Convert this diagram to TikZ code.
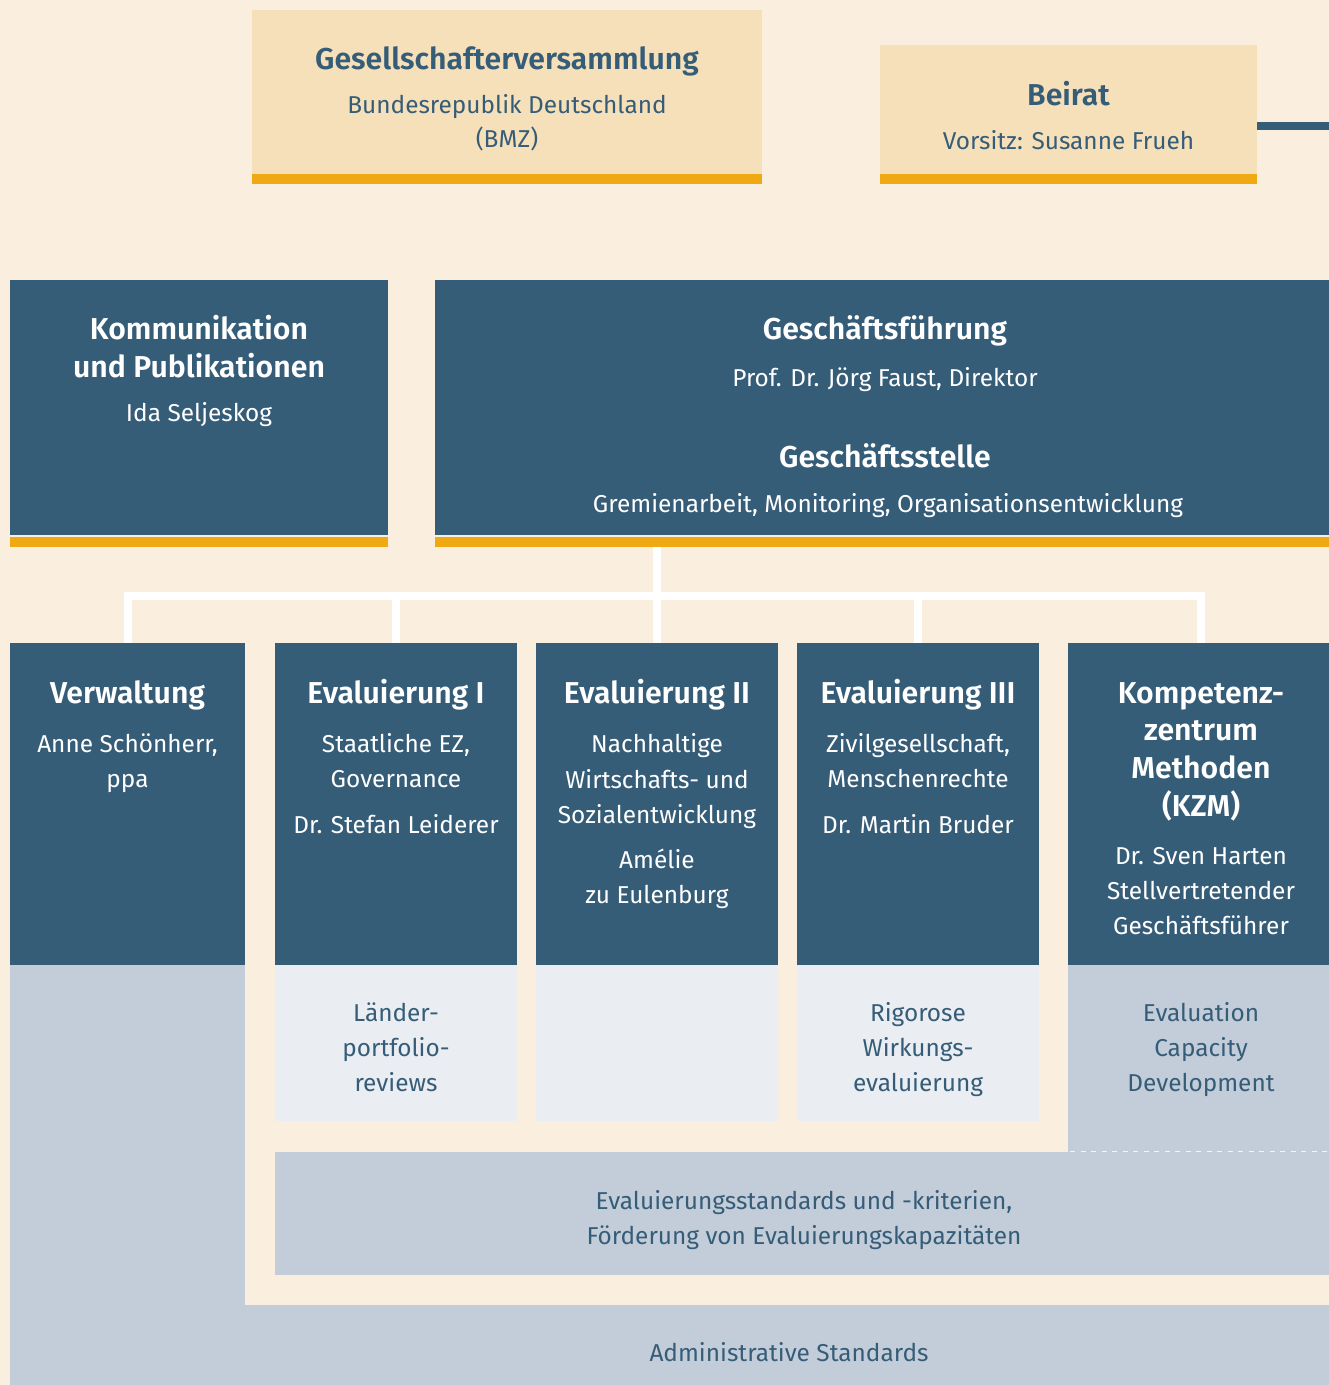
\documentclass[tikz,border=0pt]{standalone}
\usepackage{fontspec}
\setmainfont{Fira Sans}[BoldFont={Fira Sans SemiBold}]
\definecolor{cream}{HTML}{FAEFDE}
\definecolor{sand}{HTML}{F6E0BA}
\definecolor{gold}{HTML}{EEA913}
\definecolor{navy}{HTML}{365D78}
\definecolor{pale}{HTML}{EAEDF2}
\definecolor{bgray}{HTML}{C3CDD9}
\tikzset{
  boxr/.style={anchor=north west, inner sep=0, outer sep=0, draw=none},
  ttl/.style={anchor=base, inner sep=0, font=\bfseries\fontsize{30.2}{36}\selectfont},
  txt/.style={anchor=base, inner sep=0, font=\fontsize{24.4}{30}\selectfont},
  ondark/.style={text=white},
  onlight/.style={text=navy},
  conn/.style={draw=white, line width=8pt},
}
\begin{document}
\begin{tikzpicture}[x=1pt,y=-1pt]
\useasboundingbox (0,0) rectangle (1329,1385);
\fill[cream] (0,0) rectangle (1329,1385);

% top boxes
\node[boxr, fill=sand, minimum width=510, minimum height=164] (gv) at (252,10) {};
\node[boxr, fill=gold, minimum width=510, minimum height=10] (gvbar) at (252,174) {};
\node[boxr, fill=sand, minimum width=377, minimum height=129] (beirat) at (880,45) {};
\node[boxr, fill=gold, minimum width=377, minimum height=10] (beiratbar) at (880,174) {};
\coordinate (redge) at (1329,125.5);
\draw[navy, line width=8pt] (beirat.east |- redge) -- (redge);

\node[ttl, onlight] (gv1) at (507,69.5) {Gesellschafterversammlung};
\node[txt, onlight] (gv2) at (507,113.5) {Bundesrepublik Deutschland};
\node[txt, onlight] (gv3) at (507,147.5) {(BMZ)};
\node[ttl, onlight] (br1) at (1068.5,105) {Beirat};
\node[txt, onlight] (br2) at (1068.5,149.5) {Vorsitz: Susanne Frueh};

% second row
\node[boxr, fill=navy, minimum width=378, minimum height=255] (komm) at (10,280) {};
\node[boxr, fill=gold, minimum width=378, minimum height=10] (kommbar) at (10,537) {};
\node[boxr, fill=navy, minimum width=894, minimum height=255] (gf) at (435,280) {};
\node[boxr, fill=gold, minimum width=894, minimum height=10] (gfbar) at (435,537) {};

\node[ttl, ondark] (km1) at (199,339) {Kommunikation};
\node[ttl, ondark] (km2) at (199,377) {und Publikationen};
\node[txt, ondark] (km3) at (199,421) {Ida Seljeskog};
\node[ttl, ondark] (gf1) at (885,339) {Geschäftsführung};
\node[txt, ondark] (gf2) at (885,386.5) {Prof. Dr. Jörg Faust, Direktor};
\node[ttl, ondark] (gf3) at (885,467) {Geschäftsstelle};
\node[txt, ondark] (gf4) at (888,512) {Gremienarbeit, Monitoring, Organisationsentwicklung};

% lower gray regions
\fill[bgray] (10,965) rectangle (245,1385);
\fill[bgray] (10,1305) rectangle (1329,1385);
\fill[bgray] (1068,965) rectangle (1329,1152);
\node[boxr, fill=bgray, minimum width=1054, minimum height=123] (std) at (275,1152) {};
\draw[white, opacity=0.8, line width=1.5pt, dash pattern=on 5pt off 5.5pt] (1070,1151.5) -- (1329,1151.5);
\node[boxr, fill=pale, minimum width=242, minimum height=156] (l1) at (275,965) {};
\node[boxr, fill=pale, minimum width=242, minimum height=156] (l2) at (536,965) {};
\node[boxr, fill=pale, minimum width=242, minimum height=156] (l3) at (797,965) {};

% third row
\node[boxr, fill=navy, minimum width=235, minimum height=322] (verw) at (10,643) {};
\node[boxr, fill=navy, minimum width=242, minimum height=322] (ev1) at (275,643) {};
\node[boxr, fill=navy, minimum width=242, minimum height=322] (ev2) at (536,643) {};
\node[boxr, fill=navy, minimum width=242, minimum height=322] (ev3) at (797,643) {};
\node[boxr, fill=navy, minimum width=261, minimum height=322] (kzm) at (1068,643) {};

% connectors
\coordinate (hub) at (656.5,596);
\coordinate (kzmtop) at (1201,643);
\draw[conn] (gfbar.south -| hub) -- (hub);
\draw[conn] (hub) -- (ev2.north -| hub);
\draw[conn] (hub) -| (verw.north);
\draw[conn] (hub) -| (ev1.north);
\draw[conn] (hub) -| (ev3.north);
\draw[conn] (hub) -| (kzmtop);

% texts third row
\node[ttl, ondark] (vw1) at (127.5,703) {Verwaltung};
\node[txt, ondark] (vw2) at (127.5,752.5) {Anne Schönherr,};
\node[txt, ondark] (vw3) at (127.5,787.5) {ppa};

\node[ttl, ondark] (e11) at (396,703) {Evaluierung I};
\node[txt, ondark] (e12) at (396,752.5) {Staatliche EZ,};
\node[txt, ondark] (e13) at (396,787.5) {Governance};
\node[txt, ondark] (e14) at (396,833.5) {Dr. Stefan Leiderer};

\node[ttl, ondark] (e21) at (657,703) {Evaluierung II};
\node[txt, ondark] (e22) at (657,752.5) {Nachhaltige};
\node[txt, ondark] (e23) at (657,788) {Wirtschafts- und};
\node[txt, ondark] (e24) at (657,823) {Sozialentwicklung};
\node[txt, ondark] (e25) at (657,868) {Amélie};
\node[txt, ondark] (e26) at (657,903) {zu Eulenburg};

\node[ttl, ondark] (e31) at (918,703) {Evaluierung III};
\node[txt, ondark] (e32) at (918,752.5) {Zivilgesellschaft,};
\node[txt, ondark] (e33) at (918,787.5) {Menschenrechte};
\node[txt, ondark] (e34) at (918,833.5) {Dr. Martin Bruder};

\node[ttl, ondark] (kz1) at (1201,703) {Kompetenz-};
\node[ttl, ondark] (kz2) at (1201,740.5) {zentrum};
\node[ttl, ondark] (kz3) at (1201,778) {Methoden};
\node[ttl, ondark] (kz4) at (1201,816) {(KZM)};
\node[txt, ondark] (kz5) at (1201,864) {Dr. Sven Harten};
\node[txt, ondark] (kz6) at (1201,899.5) {Stellvertretender};
\node[txt, ondark] (kz7) at (1201,934.5) {Geschäftsführer};

% light box texts
\node[txt, onlight] (la1) at (396,1021.5) {Länder-};
\node[txt, onlight] (la2) at (396,1056.5) {portfolio-};
\node[txt, onlight] (la3) at (396,1091.5) {reviews};
\node[txt, onlight] (ri1) at (918,1021.5) {Rigorose};
\node[txt, onlight] (ri2) at (918,1056.5) {Wirkungs-};
\node[txt, onlight] (ri3) at (918,1091.5) {evaluierung};
\node[txt, onlight] (ec1) at (1201,1021.5) {Evaluation};
\node[txt, onlight] (ec2) at (1201,1056.5) {Capacity};
\node[txt, onlight] (ec3) at (1201,1091.5) {Development};

\node[txt, onlight] (st1) at (804,1209.5) {Evaluierungsstandards und -kriterien,};
\node[txt, onlight] (st2) at (804,1244.5) {Förderung von Evaluierungskapazitäten};
\node[txt, onlight] (ad1) at (789,1361.5) {Administrative Standards};
\end{tikzpicture}
\end{document}
